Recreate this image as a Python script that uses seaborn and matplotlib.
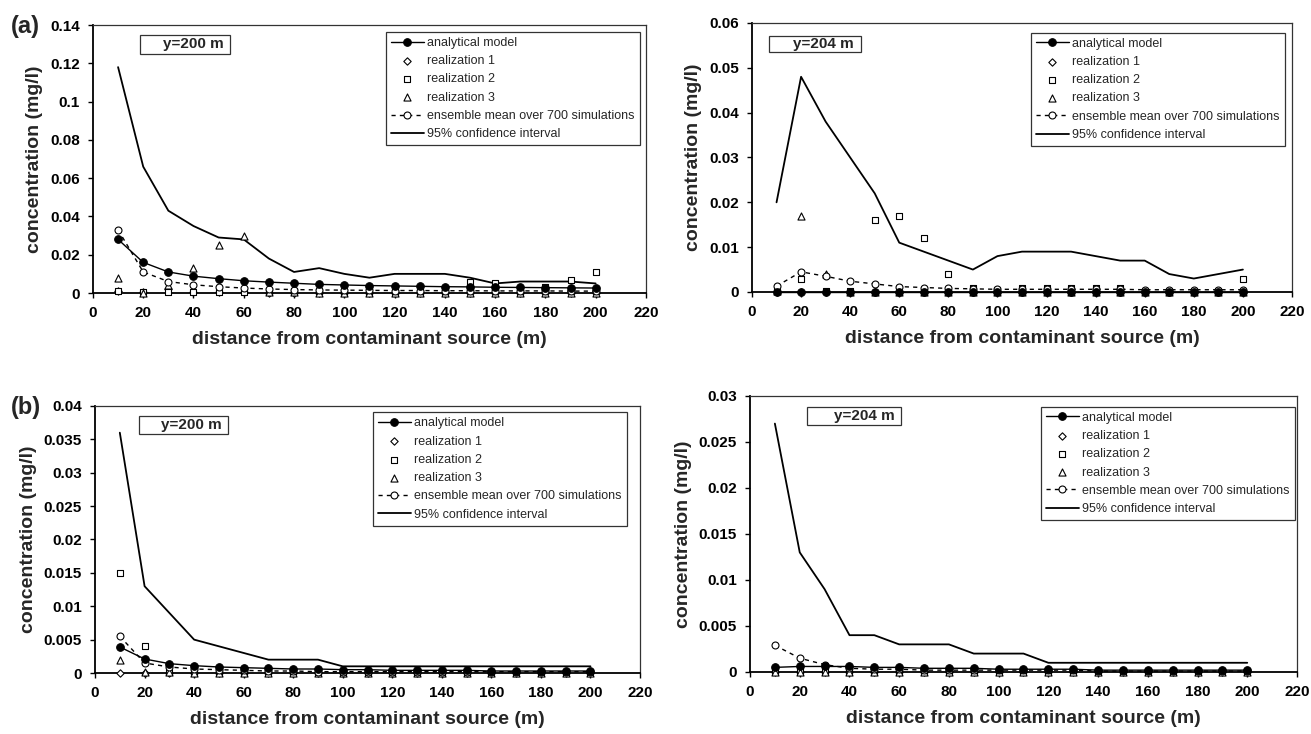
import numpy as np
import pandas as pd
import matplotlib
matplotlib.use("Agg")
import matplotlib.pyplot as plt
import seaborn as sns
from matplotlib.patches import Rectangle

# ---------------- data ----------------
distance = [10, 20, 30, 40, 50, 60, 70, 80, 90, 100,
            110, 120, 130, 140, 150, 160, 170, 180, 190, 200]

# panel (a), y = 200 m
a200_analytical = [0.028, 0.016, 0.011, 0.0088, 0.0075, 0.0064, 0.0057, 0.0051, 0.0045, 0.0042,
                   0.0039, 0.0037, 0.0035, 0.0033, 0.0032, 0.0030, 0.0029, 0.0028, 0.0027, 0.0026]
a200_real1 = [0.001, 0.0003, 0.002, 0.0004, 0.0005, 0.0003, 0.0002, 0.0002, 0.0002, 0.0002,
              0.0002, 0.0002, 0.0002, 0.0002, 0.0002, 0.0002, 0.0002, 0.0002, 0.0002, 0.0002]
a200_real2 = [0.001, 0.0003, 0.0005, 0.0003, 0.0005, 0.0003, 0.0008, 0.0012, 0.0008, 0.0005,
              0.0005, 0.0005, 0.0005, 0.0005, 0.006, 0.005, 0.0005, 0.003, 0.007, 0.011]
a200_real3 = [0.008, 0.0002, 0.004, 0.013, 0.025, 0.030, 0.0003, 0.0003, 0.0002, 0.0002,
              0.0002, 0.0002, 0.0002, 0.0002, 0.0002, 0.0002, 0.0002, 0.0002, 0.0002, 0.0002]
a200_mean = [0.033, 0.011, 0.006, 0.0043, 0.0033, 0.0026, 0.0021, 0.0018, 0.0016, 0.0015,
             0.0014, 0.0013, 0.0013, 0.0012, 0.0012, 0.0011, 0.0011, 0.0011, 0.0010, 0.0010]
a200_ci = [0.118, 0.066, 0.043, 0.035, 0.029, 0.028, 0.018, 0.011, 0.013, 0.010,
           0.008, 0.010, 0.010, 0.010, 0.008, 0.005, 0.006, 0.006, 0.006, 0.005]

# panel (a), y = 204 m
a204_analytical = [0.0001, 0.0001, 0.0001, 0.0001, 0.0001, 0.0001, 0.0001, 0.0001, 0.0001, 0.0001,
                   0.0001, 0.0001, 0.0001, 0.0001, 0.0001, 0.0001, 0.0001, 0.0001, 0.0001, 0.0001]
a204_real1 = [0.0, 0.0, 0.0, 0.0, 0.0, 0.0, 0.0, 0.0, 0.0, 0.0,
              0.0, 0.0, 0.0, 0.0, 0.0, 0.0, 0.0, 0.0, 0.0, 0.0]
a204_real2 = [0.0003, 0.003, 0.0002, 0.0002, 0.016, 0.017, 0.012, 0.004, 0.001, 0.0005,
              0.001, 0.001, 0.001, 0.001, 0.001, 0.0002, 0.0002, 0.0002, 0.0002, 0.003]
a204_real3 = [0.0002, 0.017, 0.004, 0.0, 0.0, 0.0, 0.0, 0.0, 0.0, 0.0,
              0.0, 0.0, 0.0, 0.0, 0.0, 0.0, 0.0, 0.0, 0.0, 0.0]
a204_mean = [0.0013, 0.0045, 0.0035, 0.0024, 0.0018, 0.0012, 0.0010, 0.0008, 0.0007, 0.0006,
             0.0006, 0.0006, 0.0006, 0.0006, 0.0006, 0.0005, 0.0005, 0.0005, 0.0005, 0.0005]
a204_ci = [0.020, 0.048, 0.038, 0.030, 0.022, 0.011, 0.009, 0.007, 0.005, 0.008,
           0.009, 0.009, 0.009, 0.008, 0.007, 0.007, 0.004, 0.003, 0.004, 0.005]

# panel (b), y = 200 m
b200_analytical = [0.0039, 0.0021, 0.0014, 0.0011, 0.0009, 0.0008, 0.0007, 0.0006, 0.0006, 0.0005,
                   0.0005, 0.0004, 0.0004, 0.0004, 0.0004, 0.0003, 0.0003, 0.0003, 0.0003, 0.0003]
b200_real1 = [0.0, 0.0, 0.0, 0.0, 0.0, 0.0, 0.0, 0.0, 0.0, 0.0,
              0.0, 0.0, 0.0, 0.0, 0.0, 0.0, 0.0, 0.0, 0.0, 0.0]
b200_real2 = [0.015, 0.004, 0.0002, 0.0001, 0.0001, 0.0001, 0.0001, 0.0001, 0.0001, 0.0001,
              0.0001, 0.0001, 0.0001, 0.0001, 0.0001, 0.0001, 0.0001, 0.0001, 0.0001, 0.0001]
b200_real3 = [0.002, 0.0001, 0.0001, 0.0, 0.0, 0.0, 0.0, 0.0, 0.0, 0.0,
              0.0, 0.0, 0.0, 0.0, 0.0, 0.0, 0.0, 0.0, 0.0, 0.0]
b200_mean = [0.0055, 0.0015, 0.0009, 0.0006, 0.0005, 0.0004, 0.0003, 0.0003, 0.0002, 0.0002,
             0.0002, 0.0002, 0.0002, 0.0002, 0.0002, 0.0002, 0.0002, 0.0002, 0.0002, 0.0002]
b200_ci = [0.036, 0.013, 0.009, 0.005, 0.004, 0.003, 0.002, 0.002, 0.002, 0.001,
           0.001, 0.001, 0.001, 0.001, 0.001, 0.001, 0.001, 0.001, 0.001, 0.001]

# panel (b), y = 204 m
b204_analytical = [0.0005, 0.0006, 0.0006, 0.0006, 0.0005, 0.0005, 0.0004, 0.0004, 0.0004, 0.0003,
                   0.0003, 0.0003, 0.0003, 0.0002, 0.0002, 0.0002, 0.0002, 0.0002, 0.0002, 0.0002]
b204_real1 = [0.0, 0.0, 0.0, 0.0, 0.0, 0.0, 0.0, 0.0, 0.0, 0.0,
              0.0, 0.0, 0.0, 0.0, 0.0, 0.0, 0.0, 0.0, 0.0, 0.0]
b204_real2 = [0.0001, 0.0001, 0.0001, 0.0001, 0.0001, 0.0001, 0.0001, 0.0001, 0.0001, 0.0001,
              0.0001, 0.0001, 0.0001, 0.0001, 0.0001, 0.0001, 0.0001, 0.0001, 0.0001, 0.0001]
b204_real3 = [0.0, 0.0, 0.0, 0.0, 0.0, 0.0, 0.0, 0.0, 0.0, 0.0,
              0.0, 0.0, 0.0, 0.0, 0.0, 0.0, 0.0, 0.0, 0.0, 0.0]
b204_mean = [0.0029, 0.0015, 0.0008, 0.0004, 0.0003, 0.0003, 0.0002, 0.0002, 0.0002, 0.0002,
             0.0002, 0.0002, 0.0002, 0.0001, 0.0001, 0.0001, 0.0001, 0.0001, 0.0001, 0.0001]
b204_ci = [0.027, 0.013, 0.009, 0.004, 0.004, 0.003, 0.003, 0.003, 0.002, 0.002,
           0.002, 0.001, 0.001, 0.001, 0.001, 0.001, 0.001, 0.001, 0.001, 0.001]

legend_labels = ["analytical model", "realization 1", "realization 2", "realization 3",
                 "ensemble mean over 700 simulations", "95% confidence interval"]
x_ticks = [0, 20, 40, 60, 80, 100, 120, 140, 160, 180, 200, 220]

# ---------------- style ----------------
sns.set_theme(style="ticks")
plt.rcParams['font.family'] = ['Liberation Sans', 'DejaVu Sans']
plt.rcParams['axes.linewidth'] = 1.0

fig = plt.figure(figsize=(13.11, 7.34), dpi=100)

panels = [
    # rect, data, ymax, ystep, ytick fmt, box rect (axes), legend anchor, panel letter
    dict(rect=[0.0709, 0.6008, 0.4218, 0.3651],
         an=a200_analytical, r1=a200_real1, r2=a200_real2, r3=a200_real3, mean=a200_mean, ci=a200_ci,
         yticks=[0, 0.02, 0.04, 0.06, 0.08, 0.1, 0.12, 0.14],
         ylabels=["0", "0.02", "0.04", "0.06", "0.08", "0.1", "0.12", "0.14"],
         box=(0.085, 0.892, 0.163, 0.071), ytxt="y=200 m", leg=(0.989, 0.974), letter="(a)"),
    dict(rect=[0.5736, 0.6022, 0.4119, 0.3665],
         an=a204_analytical, r1=a204_real1, r2=a204_real2, r3=a204_real3, mean=a204_mean, ci=a204_ci,
         yticks=[0, 0.01, 0.02, 0.03, 0.04, 0.05, 0.06],
         ylabels=["0", "0.01", "0.02", "0.03", "0.04", "0.05", "0.06"],
         box=(0.031, 0.893, 0.170, 0.059), ytxt="y=204 m", leg=(0.987, 0.964), letter=None),
    dict(rect=[0.0725, 0.0831, 0.4157, 0.3638],
         an=b200_analytical, r1=b200_real1, r2=b200_real2, r3=b200_real3, mean=b200_mean, ci=b200_ci,
         yticks=[0, 0.005, 0.01, 0.015, 0.02, 0.025, 0.03, 0.035, 0.04],
         ylabels=["0", "0.005", "0.01", "0.015", "0.02", "0.025", "0.03", "0.035", "0.04"],
         box=(0.081, 0.895, 0.163, 0.068), ytxt="y=200 m", leg=(0.976, 0.976), letter="(b)"),
    dict(rect=[0.5721, 0.0845, 0.4172, 0.3760],
         an=b204_analytical, r1=b204_real1, r2=b204_real2, r3=b204_real3, mean=b204_mean, ci=b204_ci,
         yticks=[0, 0.005, 0.01, 0.015, 0.02, 0.025, 0.03],
         ylabels=["0", "0.005", "0.01", "0.015", "0.02", "0.025", "0.03"],
         box=(0.105, 0.895, 0.171, 0.066), ytxt="y=204 m", leg=(0.996, 0.961), letter=None),
]

for p in panels:
    ax = fig.add_axes(p["rect"])
    df = pd.DataFrame({"distance": distance, "an": p["an"], "r1": p["r1"], "r2": p["r2"],
                       "r3": p["r3"], "mean": p["mean"], "ci": p["ci"]})

    sns.lineplot(data=df, x="distance", y="an", ax=ax, color="black", linewidth=1.0,
                 marker="o", markersize=5.5, markerfacecolor="black", markeredgecolor="black",
                 label=legend_labels[0], clip_on=False, zorder=4)
    sns.scatterplot(data=df, x="distance", y="r1", ax=ax, marker="D", s=14,
                    facecolor="white", edgecolor="black", linewidth=0.8,
                    label=legend_labels[1], clip_on=False, zorder=3)
    sns.scatterplot(data=df, x="distance", y="r2", ax=ax, marker="s", s=24,
                    facecolor="white", edgecolor="black", linewidth=0.8,
                    label=legend_labels[2], clip_on=False, zorder=3)
    sns.scatterplot(data=df, x="distance", y="r3", ax=ax, marker="^", s=26,
                    facecolor="white", edgecolor="black", linewidth=0.8,
                    label=legend_labels[3], clip_on=False, zorder=3)
    sns.lineplot(data=df, x="distance", y="mean", ax=ax, color="black", linewidth=1.0,
                 linestyle=(0, (3, 3)), marker="o", markersize=5, markerfacecolor="white",
                 markeredgecolor="black", markeredgewidth=0.8,
                 label=legend_labels[4], clip_on=False, zorder=3)
    sns.lineplot(data=df, x="distance", y="ci", ax=ax, color="black", linewidth=1.3,
                 label=legend_labels[5], zorder=2)

    ax.set_xlim(0, 220)
    ax.set_ylim(0, p["yticks"][-1])
    ax.set_xticks(x_ticks)
    ax.set_xticklabels([str(t) for t in x_ticks], fontsize=11, fontweight="bold")
    ax.set_yticks(p["yticks"])
    ax.set_yticklabels(p["ylabels"], fontsize=11, fontweight="bold")
    ax.tick_params(axis="both", direction="out", length=3.5, width=1.0, pad=6, colors="black")
    ax.set_xlabel("distance from contaminant source (m)", fontsize=14, fontweight="bold", labelpad=8)
    ax.set_ylabel("concentration (mg/l)", fontsize=14, fontweight="bold", labelpad=5)

    for side in ["left", "bottom"]:
        ax.spines[side].set_color("black")
        ax.spines[side].set_linewidth(1.3)
    for side in ["top", "right"]:
        ax.spines[side].set_visible(True)
        ax.spines[side].set_color("#333333")
        ax.spines[side].set_linewidth(0.9)

    bx, by, bw, bh = p["box"]
    ax.add_patch(Rectangle((bx, by), bw, bh, transform=ax.transAxes, facecolor="white",
                           edgecolor="#333333", linewidth=0.9, zorder=5, clip_on=False))
    ax.text(bx + bw - 0.012, by + bh / 2, p["ytxt"], transform=ax.transAxes, ha="right",
            va="center", fontsize=11, fontweight="bold", zorder=6)

    leg = ax.legend(loc="upper right", bbox_to_anchor=p["leg"], borderaxespad=0,
                    fontsize=9, frameon=True, fancybox=False, framealpha=1,
                    edgecolor="#333333", handlelength=2.6, handletextpad=0.3,
                    labelspacing=0.5, borderpad=0.4, scatterpoints=1)
    leg.get_frame().set_linewidth(0.9)

    if p["letter"]:
        fig.text(0.008, p["rect"][1] + p["rect"][3] - 0.002, p["letter"], fontsize=17,
                 fontweight="bold", ha="left", va="center")

fig.savefig("out.png", dpi=100)
